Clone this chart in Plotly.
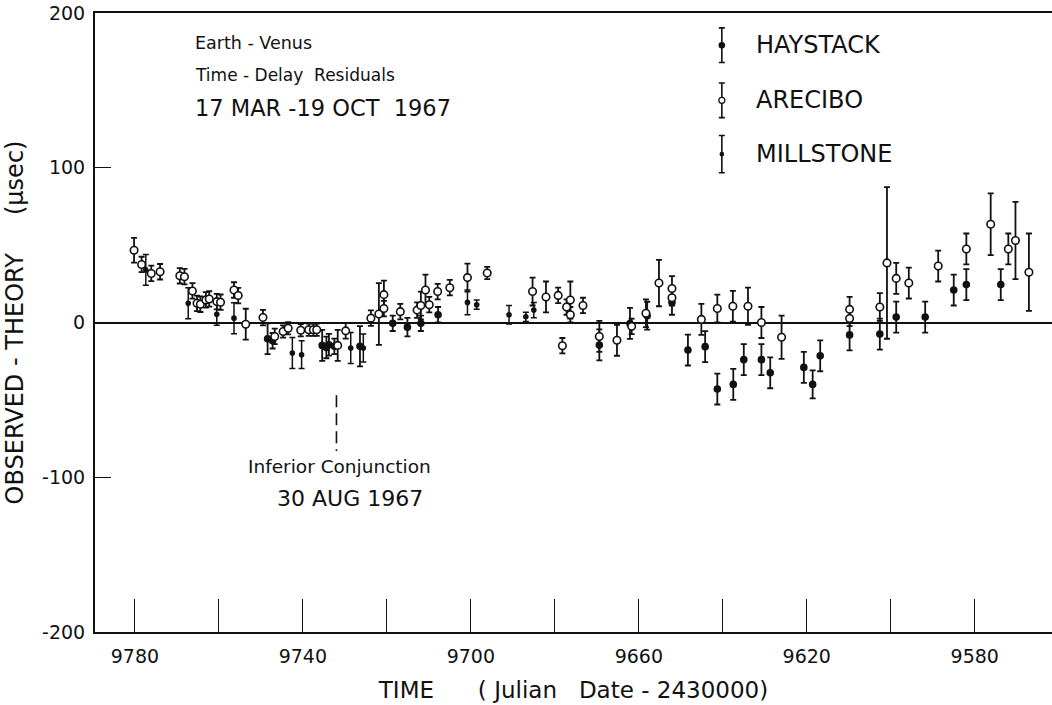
import plotly.graph_objects as go

# ---------------- data (Julian Date - 2430000, residual in microseconds, 1-sigma) ----------------
arecibo_t = [9780.2, 9778.4, 9776.1, 9774.0, 9769.3, 9768.2, 9766.3, 9765.2, 9764.4, 9763.1,
             9762.3, 9760.5, 9759.6, 9756.4, 9755.4, 9753.6, 9749.5, 9746.7, 9744.7, 9743.5,
             9740.5, 9738.6, 9737.5, 9736.7, 9731.7, 9729.8, 9723.8, 9721.9, 9720.7, 9720.7,
             9716.8, 9712.8, 9711.9, 9710.8, 9709.9, 9707.9, 9705.0, 9700.8, 9696.1, 9685.3,
             9682.1, 9679.2, 9678.2, 9677.2, 9676.3, 9676.3, 9673.3, 9669.4, 9665.2, 9661.7,
             9658.3, 9655.2, 9652.1, 9652.1, 9645.1, 9641.3, 9637.6, 9634.0, 9630.8, 9626.0,
             9609.8, 9609.8, 9602.6, 9600.9, 9598.7, 9595.7, 9588.7, 9582.0, 9576.2, 9572.0,
             9570.3, 9567.1]
arecibo_v = [46.7, 37.5, 31.7, 32.8, 30.2, 29.6, 20.4, 12.4, 11.8, 14.6,
             15.2, 13.5, 13.1, 21.0, 17.4, -1.1, 3.2, -9.0, -5.8, -3.7,
             -5.0, -4.7, -4.7, -4.7, -14.8, -5.4, 2.8, 5.5, 18.0, 9.0,
             7.0, 8.0, 11.0, 21.0, 11.5, 20.0, 22.5, 29.0, 32.0, 20.0,
             16.5, 17.5, -15.0, 10.0, 14.5, 5.0, 11.0, -9.0, -11.5, -2.5,
             6.0, 25.5, 22.0, 16.0, 2.0, 9.0, 10.5, 10.5, 0.0, -9.5,
             8.5, 2.6, 10.0, 38.5, 28.5, 25.5, 36.5, 47.5, 63.5, 47.5,
             53.0, 32.5]
arecibo_e = [8, 5, 5, 5, 5, 5, 5, 5, 5, 5,
             5, 5, 5, 5, 5, 10, 5, 5, 4, 4,
             4, 4, 4, 4, 10, 5, 5, 20, 9, 5,
             5, 5, 9, 10, 5, 5, 5, 9, 4, 9,
             10, 5, 5, 5, 12, 5, 5, 10, 10, 5,
             9, 15, 8, 5, 10, 9, 10, 12, 10, 14,
             8, 5, 9, 49, 10, 10, 10, 10, 20, 10,
             25, 25]

haystack_t = [9748.4, 9747.2, 9735.4, 9734.4, 9733.8, 9732.5, 9726.4, 9718.6, 9715.1, 9711.9,
              9707.8, 9669.4, 9662.1, 9658.0, 9652.1, 9648.3, 9644.2, 9641.3, 9637.5, 9635.0,
              9630.8, 9628.7, 9620.7, 9618.6, 9616.8, 9609.8, 9602.6, 9598.7, 9591.8, 9585.0,
              9582.0, 9573.8]
haystack_v = [-10.5, -11.8, -14.8, -16.1, -14.4, -15.4, -15.4, -0.5, -3.0, -0.5,
              5.0, -14.5, -0.6, 4.4, 13.0, -17.8, -15.6, -43.0, -40.0, -24.0,
              -24.0, -32.5, -29.0, -40.0, -21.5, -8.0, -7.5, 3.5, 3.5, 21.0,
              24.5, 24.5]
haystack_e = [10, 5, 10, 7, 7, 5, 13, 5, 6, 5,
              5, 10, 10, 9, 8, 10, 10, 10, 10, 10,
              10, 10, 10, 9, 10, 10, 10, 10, 10, 10,
              10, 10]

millstone_t = [9777.4, 9767.3, 9760.5, 9756.4, 9742.5, 9740.3, 9728.6, 9725.6, 9700.8, 9698.6,
               9690.9, 9686.9, 9685.0]
millstone_v = [34.0, 12.4, 5.3, 2.8, -19.7, -20.8, -16.5, -16.5, 13.0, 11.5,
               5.0, 3.7, 8.0]
millstone_e = [10, 10, 7, 10, 10, 9, 10, 9, 8, 3,
               6, 3, 5]

x_tick_vals = [9780, 9760, 9740, 9720, 9700, 9680, 9660, 9640, 9620, 9600, 9580]
x_tick_text = ["9780", "", "9740", "", "9700", "", "9660", "", "9620", "", "9580"]
y_tick_vals = [-200, -100, 0, 100, 200]
y_tick_text = ["-200", "-100", "0", "100", "200"]

conjunction_t = 9732.0
conjunction_span = [-47, -83]

legend_names = ["HAYSTACK", "ARECIBO", "MILLSTONE"]

# ---------------- styling ----------------
FONT = "DejaVu Sans"
INK = "#111111"

fig = go.Figure()


def add_series(t, v, e, symbol, size, fill, name, xa="x", ya="y", lw=1.6, cap=3, ew=1.8):
    fig.add_trace(go.Scatter(
        x=t, y=v, mode="markers", name=name, showlegend=False,
        xaxis=xa, yaxis=ya,
        error_y=dict(type="data", array=e, visible=True, color=INK, thickness=ew, width=cap),
        marker=dict(symbol=symbol, size=size, color=fill, line=dict(color=INK, width=lw)),
    ))


add_series(millstone_t, millstone_v, millstone_e, "circle", 4, INK, "MILLSTONE", ew=1.5)
add_series(haystack_t, haystack_v, haystack_e, "circle", 6, INK, "HAYSTACK")
add_series(arecibo_t, arecibo_v, arecibo_e, "circle", 7.5, "white", "ARECIBO", lw=1.6)

# inferior conjunction marker
fig.add_trace(go.Scatter(
    x=[conjunction_t, conjunction_t], y=conjunction_span, mode="lines", showlegend=False,
    line=dict(color=INK, width=1.6, dash="12px,6px"), hoverinfo="skip",
))

# legend key drawn on an overlay axis in fractional coordinates
key_x = 0.655
key_y = [0.948, 0.859, 0.772]
key_half = [0.028, 0.028, 0.030]
add_series([key_x], [key_y[0]], [key_half[0]], "circle", 5, INK, legend_names[0], "x2", "y2", ew=1.6)
add_series([key_x], [key_y[1]], [key_half[1]], "circle", 6, "white", legend_names[1], "x2", "y2", lw=1.3, ew=1.6)
add_series([key_x], [key_y[2]], [key_half[2]], "circle", 3, INK, legend_names[2], "x2", "y2", ew=1.6)

annotations = []
for name, yy in zip(legend_names, key_y):
    annotations.append(dict(xref="paper", yref="paper", x=0.689, y=yy, text=name,
                            showarrow=False, xanchor="left", yanchor="middle",
                            font=dict(family=FONT, size=24, color=INK)))

text_blocks = [
    ("Earth - Venus", 0.1024, 0.9515, 17.5, "left"),
    ("Time - Delay  Residuals", 0.1024, 0.900, 17, "left"),
    ("17 MAR -19 OCT  1967", 0.1024, 0.8465, 22.5, "left"),
    ("Inferior Conjunction", 0.255, 0.268, 18.5, "center"),
    ("30 AUG 1967", 0.266, 0.216, 22, "center"),
]
for txt, xx, yy, sz, anc in text_blocks:
    annotations.append(dict(xref="paper", yref="paper", x=xx, y=yy, text=txt,
                            showarrow=False, xanchor=anc, yanchor="middle",
                            font=dict(family=FONT, size=sz, color=INK)))

fig.update_layout(
    width=1052, height=705,
    margin=dict(l=95, r=0, t=13, b=73, autoexpand=False),
    paper_bgcolor="white", plot_bgcolor="white",
    font=dict(family=FONT, color=INK),
    showlegend=False,
    annotations=annotations,
    xaxis=dict(
        range=[9789.5, 9561.6], tickvals=x_tick_vals, ticktext=x_tick_text,
        ticks="inside", ticklen=33, tickwidth=1.3, tickcolor=INK,
        showline=True, linecolor=INK, linewidth=2, mirror=True,
        showgrid=False, zeroline=False, automargin=False,
        tickfont=dict(family=FONT, size=19, color=INK), ticklabelstandoff=6,
        title=dict(text="TIME      ( Julian   Date - 2430000)", font=dict(family=FONT, size=23, color=INK), standoff=16),
    ),
    yaxis=dict(
        range=[-200, 200], tickvals=y_tick_vals, ticktext=y_tick_text,
        ticks="inside", ticklen=16, tickwidth=1.3, tickcolor=INK,
        showline=True, linecolor=INK, linewidth=2,
        showgrid=False, zeroline=True, zerolinecolor=INK, zerolinewidth=1.6,
        automargin=False,
        tickfont=dict(family=FONT, size=19, color=INK), ticklabelstandoff=4,
        title=dict(text="OBSERVED - THEORY     (µsec)", font=dict(family=FONT, size=24, color=INK), standoff=12),
    ),
    xaxis2=dict(overlaying="x", range=[0, 1], visible=False, fixedrange=True),
    yaxis2=dict(overlaying="y", range=[0, 1], visible=False, fixedrange=True),
)

fig.write_html(
    "out.html",
    config={"displayModeBar": False},
    post_script="document.body.style.margin='0';document.body.style.overflow='hidden';",
)
